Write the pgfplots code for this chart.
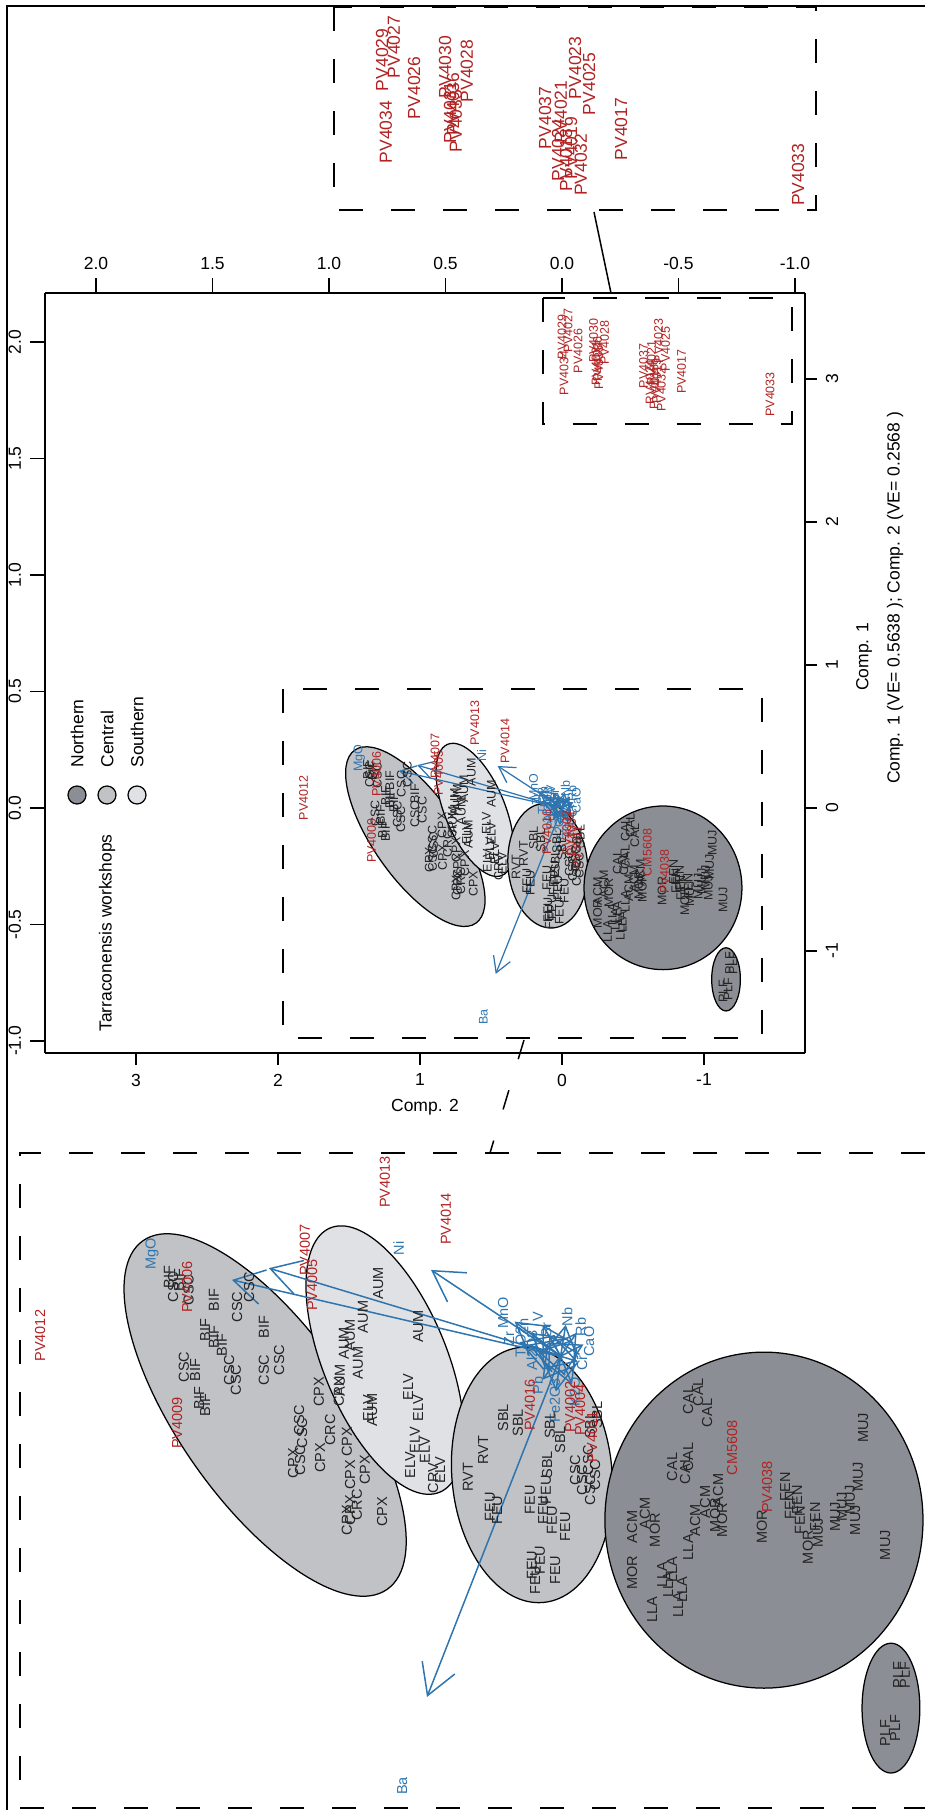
\documentclass[border=0pt]{standalone}
\usepackage{pgfplots}
\pgfplotsset{compat=1.18}
\usepackage{pgfplotstable}
\usepackage{fontspec}
\setmainfont{Liberation Sans}
\usetikzlibrary{arrows.meta}
\definecolor{northern}{RGB}{139,142,148}
\definecolor{central}{RGB}{192,194,198}
\definecolor{southern}{RGB}{224,225,229}
\definecolor{pvred}{RGB}{178,34,34}
\definecolor{ldblue}{RGB}{46,117,176}
\definecolor{lblack}{RGB}{35,35,35}
\newcommand\tfont{\fontsize{7}{8}\selectfont}

\pgfplotstableread{
x y label
1.369 0.270 BIF
1.334 0.260 BIF
1.355 0.236 CSC
1.300 0.226 CSC
1.212 0.192 BIF
1.243 0.089 BIF
1.212 0.066 BIF
1.184 0.038 BIF
1.089 0.236 CSC
1.131 0.168 CSC
1.037 0.100 BIF
1.317 -0.037 CSC
1.278 -0.047 BIF
1.159 -0.047 CSC
1.135 -0.081 CSC
1.037 -0.047 CSC
0.984 -0.013 CSC
1.264 -0.142 BIF
1.243 -0.166 BIF
0.914 -0.217 CSC
0.845 -0.122 CPX
0.935 -0.364 CPX
0.911 -0.353 CSC
0.904 -0.261 CSC
0.841 -0.346 CPX
0.806 -0.251 CRC
0.747 -0.292 CPX
0.736 -0.404 CPX
0.747 -0.558 CPX
0.736 -0.524 CPX
0.712 -0.507 CRC
0.624 -0.530 CPX
0.684 -0.387 CPX
0.775 -0.122 CPX
0.757 0.045 AUM
0.736 0.072 AUM
0.691 0.134 AUM
0.638 0.249 AUM
0.498 0.100 AUM
0.708 -0.023 AUM
0.771 -0.081 AUM
0.673 -0.176 ELV
0.659 -0.183 AUM
0.533 -0.105 ELV
0.498 -0.176 ELV
0.526 -0.370 ELV
0.509 -0.285 ELV
0.474 -0.319 ELV
0.446 -0.415 CRV
0.421 -0.387 ELV
0.324 -0.411 RVT
0.271 -0.319 RVT
0.201 -0.210 SBL
0.149 -0.227 SBL
0.247 -0.513 FEU
0.222 -0.524 FEU
0.107 -0.489 FEU
0.061 -0.524 FEU
0.051 -0.455 FEU
0.047 -0.370 SBL
0.030 -0.558 FEU
-0.016 -0.581 FEU
0.037 -0.234 SBL
0.002 -0.285 SBL
0.100 -0.711 FEU
0.072 -0.694 FEU
0.019 -0.728 FEU
0.089 -0.762 FEU
-0.051 -0.387 CSC
-0.075 -0.421 CSC
-0.096 -0.353 CSC
-0.103 -0.455 CSC
-0.121 -0.404 CSC
-0.103 -0.234 SBL
-0.128 -0.200 SBL
-0.320 -0.864 LLA
-0.250 -0.738 MOR
-0.250 -0.581 ACM
-0.295 -0.534 ACM
-0.330 -0.592 MOR
-0.355 -0.745 LLA
-0.376 -0.779 LLA
-0.390 -0.728 LLA
-0.411 -0.847 LLA
-0.425 -0.796 LLA
-0.390 -0.377 CAL
-0.435 -0.387 CAL
-0.446 -0.650 LLA
-0.470 -0.558 ACM
-0.505 -0.496 ACM
-0.540 -0.541 MOR
-0.551 -0.455 ACM
-0.565 -0.558 MOR
-0.446 -0.149 CAL
-0.481 -0.122 CAL
-0.512 -0.193 CAL
-0.446 -0.343 CAL
-0.704 -0.581 MOR
-0.785 -0.445 FEN
-0.802 -0.507 FEN
-0.827 -0.489 FEN
-0.890 -0.547 FEN
-0.865 -0.650 MOR
-0.837 -0.558 FEN
-0.900 -0.602 MUJ
-0.960 -0.547 MUJ
-0.984 -0.513 MUJ
-1.012 -0.489 MUJ
-1.040 -0.411 MUJ
-1.058 -0.244 MUJ
-1.135 -0.643 MUJ
-1.030 -0.558 MUJ
-1.135 -1.283 PLF
-1.170 -1.266 PLF
-1.180 -1.085 PLF
-1.204 -1.085 PLF
}\tblBlack

\pgfplotstableread{
x y label
1.306 0.236 PV4006
1.341 -0.227 PV4009
0.894 0.362 PV4007
0.869 0.243 PV4005
0.614 0.593 PV4013
0.401 0.467 PV4014
1.820 0.070 PV4012
0.107 -0.166 PV4016
-0.033 -0.173 PV4002
-0.068 -0.183 PV4004
-0.110 -0.275 PV4011
-0.600 -0.312 CM5608
-0.722 -0.445 PV4038
-1.465 2.892 PV4033
-0.842 3.052 PV4017
-0.014 3.042 PV4034
0.000 3.294 PV4029
-0.042 3.339 PV4027
-0.113 3.196 PV4026
-0.222 3.269 PV4030
-0.299 3.255 PV4028
-0.240 3.110 PV4031
-0.260 3.080 PV4035
-0.250 3.140 PV4036
-0.574 3.091 PV4037
-0.630 3.112 PV4021
-0.680 3.266 PV4023
-0.729 3.210 PV4025
-0.700 2.927 PV4032
-0.648 2.944 PV4018
-0.666 2.986 PV4019
-0.620 2.979 PV4024
}\tblRed

\pgfplotstableread{
x y u v
0 0 0.467 -1.160
0 0 1.149 0.260
0 0 1.020 0.300
0 0 0.453 0.294
0 0 0.161 0.118
0 0 0.063 0.107
0 0 -0.018 0.107
0 0 -0.060 -0.018
0 0 0.112 0.040
0 0 -0.040 -0.096
0 0 0.016 -0.120
0 0 0.080 0.016
0 0 -0.080 0.040
0 0 0.040 0.072
0 0 -0.056 0.080
0 0 0.104 0.080
0 0 0.144 0.048
0 0 0.064 -0.080
}\tblLoad

\pgfplotstableread{
x y label
0.554 -1.463 Ba
1.428 0.348 MgO
0.566 0.368 Ni
0.201 0.147 MnO
0.079 0.134 V
-0.023 0.134 Nb
-0.075 -0.023 Cr
0.140 0.050 TiO2
-0.050 -0.120 K2O
0.020 -0.150 Fe2O3
0.100 0.020 Al2O3
-0.100 0.050 CaO
0.050 0.090 Sr
-0.070 0.100 Rb
0.130 0.100 Zn
0.180 0.060 Zr
0.080 -0.100 Pb
}\tblLoadLab

\newcommand\ellip[6]{\draw[fill=#6, draw=black, line width=0.5pt, rotate around={#5:(axis cs:#1,#2)}] (axis cs:#1,#2) ellipse [x radius=#3, y radius=#4];}

\newcommand\plotall{%
 \ellip{1.033}{-0.200}{0.744}{0.294}{-55}{central}
 \ellip{0.614}{-0.013}{0.50}{0.21}{-67.5}{southern}
 \ellip{0.100}{-0.404}{0.28}{0.436}{5}{central}
 \ellip{-0.711}{-0.558}{0.556}{0.572}{0}{northern}
 \ellip{-1.155}{-1.198}{0.101}{0.221}{0}{northern}
 \addplot[quiver={u=\thisrow{u},v=\thisrow{v}}, ldblue, arrowtip] table {\tblLoad};
 \addplot[only marks, mark=none, nodes near coords, point meta=explicit symbolic,
   every node near coord/.append style={text=ldblue}] table[meta=label] {\tblLoadLab};
 \addplot[only marks, mark=none, nodes near coords, point meta=explicit symbolic,
   every node near coord/.append style={text=lblack}] table[meta=label] {\tblBlack};
 \addplot[only marks, mark=none, nodes near coords, point meta=explicit symbolic,
   every node near coord/.append style={text=pvred}] table[meta=label] {\tblRed};
}

\tikzset{arrowtip/.style={line width=0.5pt, -{Straight Barb[length=6.2pt,width=7.2pt]}}}

\begin{document}
\begin{tikzpicture}
\useasboundingbox (0,0) rectangle (370pt,-724pt);

% main biplot (Comp. scores)
\begin{axis}[
 at={(18pt,-117.2pt)}, anchor=north west,
 width=304pt, height=304pt, scale only axis,
 xmin=-1.711, xmax=3.641, ymin=-1.713, ymax=3.601, x dir=reverse,
 axis x line*=bottom, axis y line*=right,
 xtick={-1,0,1,2,3}, ytick={-1,0,1,2,3},
 tick align=outside, major tick length=4.8pt,
 every tick/.style={black, line width=0.5pt},
 axis line style={line width=0.6pt},
 tick label style={font=\tfont},
 yticklabel style={rotate=90, anchor=north},
 /pgf/number format/assume math mode=true,
 clip marker paths=true,
 every node near coord/.append style={font=\fontsize{5}{5}\selectfont, rotate=90, anchor=center, inner sep=0pt},
]
\plotall
\end{axis}

% secondary scale (loadings)
\begin{axis}[
 at={(18pt,-117.2pt)}, anchor=north west,
 width=304pt, height=304pt, scale only axis,
 xmin=-1.043, xmax=2.219, ymin=-1.052, ymax=2.210, x dir=reverse,
 axis x line*=top, axis y line*=left,
 xtick={-1,-0.5,0,0.5,1,1.5,2}, ytick={-1,-0.5,0,0.5,1,1.5,2},
 tick align=outside, major tick length=6pt,
 every tick/.style={black, line width=0.5pt},
 axis line style={line width=0.6pt},
 tick label style={font=\tfont},
 xticklabel style={/pgf/number format/fixed, /pgf/number format/fixed zerofill, /pgf/number format/precision=1},
 yticklabel style={rotate=90, anchor=south, /pgf/number format/fixed, /pgf/number format/fixed zerofill, /pgf/number format/precision=1},
 /pgf/number format/assume math mode=true,
]
\addplot[draw=none] coordinates {(0,0)};
\end{axis}

% top inset
\begin{axis}[
 at={(133.6pt,-2.8pt)}, anchor=north west,
 width=192.8pt, height=81.2pt, scale only axis,
 xmin=-1.528, xmax=0.169, ymin=2.769, ymax=3.479, x dir=reverse,
 hide axis, clip marker paths=true,
 every node near coord/.append style={font=\fontsize{7}{7}\selectfont, rotate=90, anchor=center, inner sep=0pt},
 /tikz/arrowtip/.style={line width=0.6pt, -{Straight Barb[length=12pt,width=14pt]}},
]
\plotall
\end{axis}

% bottom inset
\begin{axis}[
 at={(8pt,-461.2pt)}, anchor=north west,
 width=362pt, height=262.8pt, scale only axis,
 xmin=-1.274, xmax=1.890, ymin=-1.545, ymax=0.692, x dir=reverse,
 hide axis, clip marker paths=true,
 every node near coord/.append style={font=\fontsize{5.8}{5.8}\selectfont, rotate=90, anchor=center, inner sep=0pt},
 /tikz/arrowtip/.style={line width=0.6pt, -{Straight Barb[length=12pt,width=14pt]}},
]
\plotall
\end{axis}

\begin{scope}[x=0.4pt,y=-0.4pt]
 \draw[line width=0.8pt] (7,1810) -- (7,6) -- (925,6);
 \tikzset{dsh/.style={line width=0.7pt, dash pattern=on 9.6pt off 11.2pt}}
 \draw[dsh] (334,7) rectangle (816,210);
 \draw[dsh] (543,298) rectangle (792,424);
 \draw[dsh] (283,689) rectangle (762,1038);
 \draw[dsh] (925,1153) -- (20,1153) -- (20,1808) -- (925,1808);
 \draw[line width=0.6pt] (594,212) -- (611,293);
 \draw[line width=0.6pt, dash pattern=on 8pt off 13pt] (524,1040) -- (490,1153);
 \node[font=\tfont] at (425,1107) {Comp. 2};
 \node[font=\tfont, rotate=90] at (864,657) {Comp. 1};
 \node[font=\tfont, rotate=90] at (895,598) {Comp. 1 (VE= 0.5638 ); Comp. 2 (VE= 0.2568 )};
 % legend
 \draw[fill=northern, line width=0.5pt] (77,795) circle (3.6pt);
 \draw[fill=central, line width=0.5pt] (107,795) circle (3.6pt);
 \draw[fill=southern, line width=0.5pt] (137,795) circle (3.6pt);
 \node[font=\tfont, rotate=90, anchor=west, inner sep=0pt] at (77,768) {Northern};
 \node[font=\tfont, rotate=90, anchor=west, inner sep=0pt] at (107,768) {Central};
 \node[font=\tfont, rotate=90, anchor=west, inner sep=0pt] at (137,768) {Southern};
 \node[font=\tfont, rotate=90, inner sep=0pt] at (107,933) {Tarraconensis workshops};
\end{scope}
\end{tikzpicture}
\end{document}
